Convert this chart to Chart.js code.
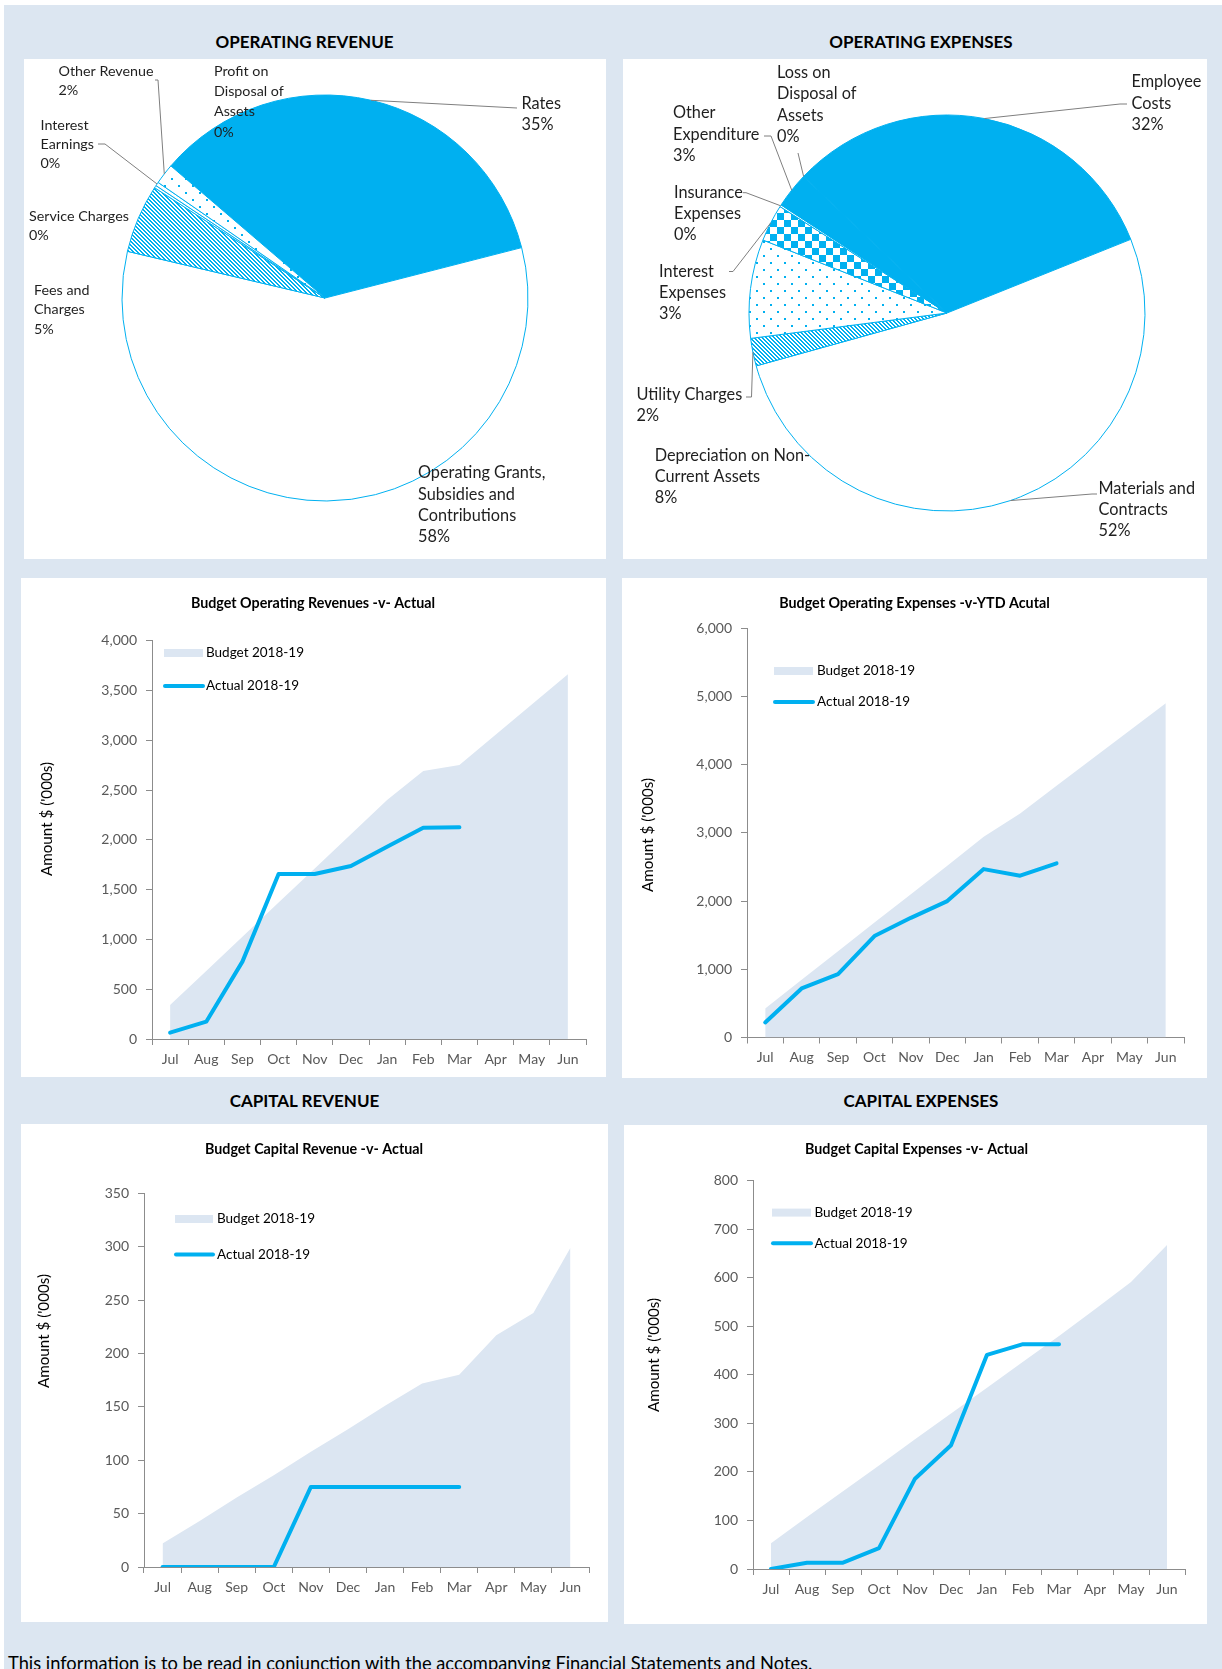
<!DOCTYPE html>
<html>
<head>
<meta charset="utf-8">
<title>Financial Activity Charts 2018-19</title>
<script src="https://cdn.jsdelivr.net/npm/chart.js@4.4.1/dist/chart.umd.min.js"></script>
<style>
  html, body { margin: 0; padding: 0; background: #ffffff; }
  body { width: 1222px; height: 1669px; position: relative; overflow: hidden; font-family: Lato, "Open Sans", sans-serif; }
  #bg { position: absolute; left: 4px; top: 5px; right: 0; bottom: 0; background: #DCE6F1; }
  .panel { position: absolute; background: #ffffff; }
  .panel canvas { position: absolute; left: 0; top: 0; }
  .head { position: absolute; transform: translate(-50%, -50%); font: bold 17px Lato, sans-serif; color: #000; white-space: nowrap; }
  #note { position: absolute; left: 8px; top: 1652.5px; font: 18.3px Lato, sans-serif; line-height: 20px; color: #000; white-space: nowrap; }
</style>
</head>
<body>
<div id="bg"></div>

<div class="head" style="left:304.5px; top:40.5px;">OPERATING REVENUE</div>
<div class="head" style="left:921px; top:40.5px;">OPERATING EXPENSES</div>
<div class="head" style="left:304.5px; top:1100px;">CAPITAL REVENUE</div>
<div class="head" style="left:921px; top:1100px;">CAPITAL EXPENSES</div>

<div class="panel" id="p1"><canvas id="c1"></canvas></div>
<div class="panel" id="p2"><canvas id="c2"></canvas></div>
<div class="panel" id="p3"><canvas id="c3"></canvas></div>
<div class="panel" id="p4"><canvas id="c4"></canvas></div>
<div class="panel" id="p5"><canvas id="c5"></canvas></div>
<div class="panel" id="p6"><canvas id="c6"></canvas></div>

<div id="note">This information is to be read in conjunction with the accompanying Financial Statements and Notes.</div>

<script>
// ---------- data ($'000s) ----------
const months = ['Jul', 'Aug', 'Sep', 'Oct', 'Nov', 'Dec', 'Jan', 'Feb', 'Mar', 'Apr', 'May', 'Jun'];

const revenueCategories = [
  ['Rates'],
  ['Operating Grants,', 'Subsidies and', 'Contributions'],
  ['Fees and', 'Charges'],
  ['Service Charges'],
  ['Interest', 'Earnings'],
  ['Other Revenue'],
  ['Profit on', 'Disposal of', 'Assets']
];
const revenueValues = [1740, 2890, 273, 10, 15, 82, 0];

const expenseCategories = [
  ['Employee', 'Costs'],
  ['Materials and', 'Contracts'],
  ['Utility Charges'],
  ['Depreciation on Non-', 'Current Assets'],
  ['Interest', 'Expenses'],
  ['Insurance', 'Expenses'],
  ['Other', 'Expenditure'],
  ['Loss on', 'Disposal of', 'Assets']
];
const expenseValues = [1580, 2570, 112, 400, 150, 8, 145, 0];

const opRevenueBudget = [341, 684, 1027, 1370, 1713, 2057, 2400, 2691, 2751, 3055, 3360, 3662];
const opRevenueActual = [64, 174, 777, 1657, 1657, 1737, 1931, 2122, 2126, null, null, null];

const opExpenseBudget = [425, 845, 1265, 1685, 2100, 2520, 2944, 3286, 3690, 4093, 4497, 4900];
const opExpenseActual = [220, 719, 929, 1487, 1755, 2000, 2469, 2372, 2553, null, null, null];

const capRevenueBudget = [22, 43, 65, 86, 108, 129, 151, 172, 180, 217, 238, 299];
const capRevenueActual = [0, 0, 0, 0, 75, 75, 75, 75, 75, null, null, null];

const capExpenseBudget = [53, 107, 160, 213, 267, 320, 373, 427, 480, 535, 591, 667];
const capExpenseActual = [0, 13, 13, 43, 186, 255, 441, 463, 463, null, null, null];

const budgetLabel = 'Budget 2018-19';
const actualLabel = 'Actual 2018-19';

// ---------- styling ----------
const BLUE = '#00B0F0';
const AREA = '#DCE6F2';
const AXIS = '#8C8C8C';
const TICK = '#595959';
const TEXT = '#1F1F1F';
const FONT = 'Lato, "Open Sans", sans-serif';

Chart.defaults.font.family = FONT;

// panel boxes on the page
const boxes = {
  p1: { x: 24,  y: 59,   w: 582, h: 500 },
  p2: { x: 623, y: 59,   w: 584, h: 500 },
  p3: { x: 21,  y: 578,  w: 585, h: 499 },
  p4: { x: 622, y: 578,  w: 585, h: 500 },
  p5: { x: 21,  y: 1124, w: 587, h: 498 },
  p6: { x: 624, y: 1125, w: 583, h: 499 }
};
for (const id in boxes) {
  const b = boxes[id], el = document.getElementById(id);
  el.style.left = b.x + 'px'; el.style.top = b.y + 'px';
  el.style.width = b.w + 'px'; el.style.height = b.h + 'px';
}

// ---------- fill patterns ----------
function makePattern(w, h, paint) {
  const c = document.createElement('canvas');
  c.width = w; c.height = h;
  const g = c.getContext('2d');
  g.fillStyle = '#ffffff'; g.fillRect(0, 0, w, h);
  g.fillStyle = BLUE;
  paint(g);
  return g.createPattern(c, 'repeat');
}
const hatch = makePattern(4, 4, g => {
  for (let i = 0; i < 4; i++) { g.fillRect(i, i, 1, 1); g.fillRect((i + 1) % 4, i, 1, 1); }
});
const dots = makePattern(14, 14, g => { g.fillRect(0, 0, 2, 2); g.fillRect(7, 7, 2, 2); });
const checker = makePattern(14, 14, g => { g.fillRect(0, 0, 7, 7); g.fillRect(7, 7, 7, 7); });

// ---------- pie labels with leader lines ----------
const pieLabels = {
  id: 'pieLabels',
  afterDatasetsDraw(chart, args, o) {
    const ctx = chart.ctx;
    const meta = chart.getDatasetMeta(0);
    const values = chart.data.datasets[0].data;
    const total = values.reduce((a, b) => a + b, 0);
    const ox = o.origin.x, oy = o.origin.y;
    ctx.save();
    o.items.forEach((it, i) => {
      const arc = meta.data[i];
      if (it.leader) {
        const mid = (arc.startAngle + arc.endAngle) / 2;
        ctx.beginPath();
        ctx.moveTo(arc.x + Math.cos(mid) * arc.outerRadius, arc.y + Math.sin(mid) * arc.outerRadius);
        it.leader.forEach(p => ctx.lineTo(p[0] - ox, p[1] - oy));
        ctx.strokeStyle = '#7F7F7F';
        ctx.lineWidth = 1;
        ctx.stroke();
      }
      const lines = chart.data.labels[i].concat([Math.round(values[i] / total * 100) + '%']);
      ctx.font = it.size + 'px ' + FONT;
      ctx.fillStyle = TEXT;
      ctx.textAlign = 'left';
      ctx.textBaseline = 'middle';
      lines.forEach((t, k) => ctx.fillText(t, it.x - ox, it.y - oy + k * it.lh));
    });
    ctx.restore();
  }
};

function buildPie(canvasId, box, center, radius, rotation, labels, values, colors, items) {
  const cv = document.getElementById(canvasId);
  cv.width = box.w; cv.height = box.h;
  const cx = center.x - box.x, cy = center.y - box.y;
  const padX = 2 * (cx - box.w / 2), padY = 2 * (cy - box.h / 2);
  return new Chart(cv, {
    type: 'pie',
    data: {
      labels: labels,
      datasets: [{
        data: values,
        backgroundColor: colors,
        borderColor: BLUE,
        borderWidth: 1,
        borderJoinStyle: 'round'
      }]
    },
    options: {
      responsive: false,
      animation: false,
      events: [],
      rotation: rotation,
      radius: radius,
      layout: { padding: {
        left: Math.max(padX, 0), right: Math.max(-padX, 0),
        top: Math.max(padY, 0), bottom: Math.max(-padY, 0)
      } },
      plugins: {
        legend: { display: false },
        tooltip: { enabled: false },
        pieLabels: { origin: box, items: items }
      }
    },
    plugins: [pieLabels]
  });
}

const SMALL = 14.3, LARGE = 16.3;

buildPie('c1', boxes.p1, { x: 325, y: 298 }, 203, -49.4,
  revenueCategories, revenueValues,
  [BLUE, '#ffffff', hatch, '#ffffff', '#ffffff', dots, '#ffffff'],
  [
    { x: 521.5, y: 104, size: LARGE, lh: 20.5, leader: [[517, 108]] },
    { x: 418, y: 473, size: LARGE, lh: 21.3 },
    { x: 34, y: 290, size: SMALL, lh: 19.5 },
    { x: 29, y: 216, size: SMALL, lh: 19 },
    { x: 40.5, y: 125, size: SMALL, lh: 19, leader: [[105, 144], [98, 144]] },
    { x: 58.5, y: 71, size: SMALL, lh: 19, leader: [[158, 80], [155, 80]] },
    { x: 214, y: 71, size: SMALL, lh: 20.3 }
  ]);

buildPie('c2', boxes.p2, { x: 947, y: 313 }, 198, -46.4,
  expenseCategories, expenseValues,
  [BLUE, '#ffffff', hatch, dots, checker, '#ffffff', BLUE, '#ffffff'],
  [
    { x: 1131.5, y: 82, size: LARGE, lh: 21.3, leader: [[1120, 104], [1127, 104]] },
    { x: 1098.5, y: 488.6, size: LARGE, lh: 21.3, leader: [[1092, 494], [1097, 494]] },
    { x: 636.5, y: 395, size: LARGE, lh: 21, leader: [[751.5, 397], [746, 397]] },
    { x: 654.7, y: 455.6, size: LARGE, lh: 21 },
    { x: 659, y: 271.5, size: LARGE, lh: 21, leader: [[733, 271.5], [729, 271.5]] },
    { x: 674, y: 192.7, size: LARGE, lh: 21, leader: [[746, 192.7], [743, 192.7]] },
    { x: 673, y: 113, size: LARGE, lh: 21.5, leader: [[771, 136], [764, 136]] },
    { x: 777, y: 72.4, size: LARGE, lh: 21.5, leader: [[798, 153]] }
  ]);

// ---------- budget vs actual line charts ----------
const decor = {
  id: 'decor',
  afterDraw(chart, args, o) {
    const ctx = chart.ctx;
    const ox = o.origin.x, oy = o.origin.y;
    ctx.save();
    ctx.fillStyle = '#000';
    ctx.textBaseline = 'middle';
    // chart title
    ctx.font = 'bold 14.3px ' + FONT;
    ctx.textAlign = 'center';
    ctx.fillText(o.title, o.titleAt[0] - ox, o.titleAt[1] - oy);
    // value axis title
    ctx.save();
    ctx.translate(o.yTitleAt[0] - ox, o.yTitleAt[1] - oy);
    ctx.rotate(-Math.PI / 2);
    ctx.font = '15.2px ' + FONT;
    ctx.fillText(o.yTitle, 0, 0);
    ctx.restore();
    // legend
    const [budget, actual] = chart.data.datasets;
    const L = o.legend;
    ctx.fillStyle = budget.backgroundColor;
    ctx.fillRect(L.x0 - ox, L.by - 4 - oy, L.x1 - L.x0, 8);
    ctx.beginPath();
    ctx.moveTo(L.x0 - ox + 1, L.ay - oy);
    ctx.lineTo(L.x1 - ox, L.ay - oy);
    ctx.strokeStyle = actual.borderColor;
    ctx.lineWidth = actual.borderWidth;
    ctx.lineCap = 'round';
    ctx.stroke();
    ctx.font = '13.5px ' + FONT;
    ctx.textAlign = 'left';
    ctx.fillStyle = '#000';
    ctx.fillText(budget.label, L.tx - ox, L.by - oy);
    ctx.fillText(actual.label, L.tx - ox, L.ay - oy);
    ctx.restore();
  }
};

function buildLine(canvasId, box, plot, budget, actual, yMax, yStep, deco) {
  const cv = document.getElementById(canvasId);
  cv.width = box.w; cv.height = box.h;
  const yW = 70, xH = 30;
  deco.origin = box;
  return new Chart(cv, {
    type: 'line',
    data: {
      labels: months,
      datasets: [
        { label: budgetLabel, data: budget, fill: 'origin', backgroundColor: AREA,
          borderColor: AREA, borderWidth: 0, pointRadius: 0, order: 2 },
        { label: actualLabel, data: actual, fill: false, borderColor: BLUE, borderWidth: 4,
          pointRadius: 0, borderCapStyle: 'round', borderJoinStyle: 'round', order: 1 }
      ]
    },
    options: {
      responsive: false,
      animation: false,
      events: [],
      layout: { padding: {
        left: plot.x0 - box.x - yW,
        right: box.x + box.w - plot.x1,
        top: plot.y0 - box.y,
        bottom: box.y + box.h - plot.y1 - xH
      } },
      scales: {
        x: {
          offset: true,
          grid: { offset: true, drawOnChartArea: false, drawTicks: true, tickLength: 6, color: AXIS },
          border: { display: true, color: AXIS },
          ticks: { padding: 6, color: TICK, font: { size: 14 }, maxRotation: 0, autoSkip: false },
          afterFit(s) { s.height = xH; }
        },
        y: {
          min: 0, max: yMax,
          grid: { drawOnChartArea: false, drawTicks: true, tickLength: 6, color: AXIS },
          border: { display: true, color: AXIS },
          ticks: { stepSize: yStep, padding: 9, color: TICK, font: { size: 14 } },
          afterFit(s) { s.width = yW; }
        }
      },
      plugins: {
        legend: { display: false },
        tooltip: { enabled: false },
        decor: deco
      }
    },
    plugins: [decor]
  });
}

const yAxisTitle = "Amount $ ('000s)";

buildLine('c3', boxes.p3, { x0: 152, x1: 586, y0: 640.7, y1: 1039 },
  opRevenueBudget, opRevenueActual, 4000, 500, {
    title: 'Budget Operating Revenues -v- Actual', titleAt: [313, 603],
    yTitle: yAxisTitle, yTitleAt: [47, 819],
    legend: { x0: 164, x1: 203, by: 653, ay: 686, tx: 206 }
  });

buildLine('c4', boxes.p4, { x0: 747, x1: 1184, y0: 628.3, y1: 1037.5 },
  opExpenseBudget, opExpenseActual, 6000, 1000, {
    title: 'Budget Operating Expenses -v-YTD Acutal', titleAt: [914.5, 603],
    yTitle: yAxisTitle, yTitleAt: [648, 835],
    legend: { x0: 774, x1: 813, by: 671, ay: 702, tx: 817 }
  });

buildLine('c5', boxes.p5, { x0: 144, x1: 589, y0: 1193.4, y1: 1567 },
  capRevenueBudget, capRevenueActual, 350, 50, {
    title: 'Budget Capital Revenue -v- Actual', titleAt: [314, 1149],
    yTitle: yAxisTitle, yTitleAt: [44.5, 1331],
    legend: { x0: 175, x1: 213, by: 1219, ay: 1254.5, tx: 217 }
  });

buildLine('c6', boxes.p6, { x0: 753, x1: 1185, y0: 1180.5, y1: 1569 },
  capExpenseBudget, capExpenseActual, 800, 100, {
    title: 'Budget Capital Expenses -v- Actual', titleAt: [916.5, 1149.6],
    yTitle: yAxisTitle, yTitleAt: [654, 1355],
    legend: { x0: 772, x1: 811, by: 1212.6, ay: 1243.3, tx: 814.5 }
  });
</script>
</body>
</html>
